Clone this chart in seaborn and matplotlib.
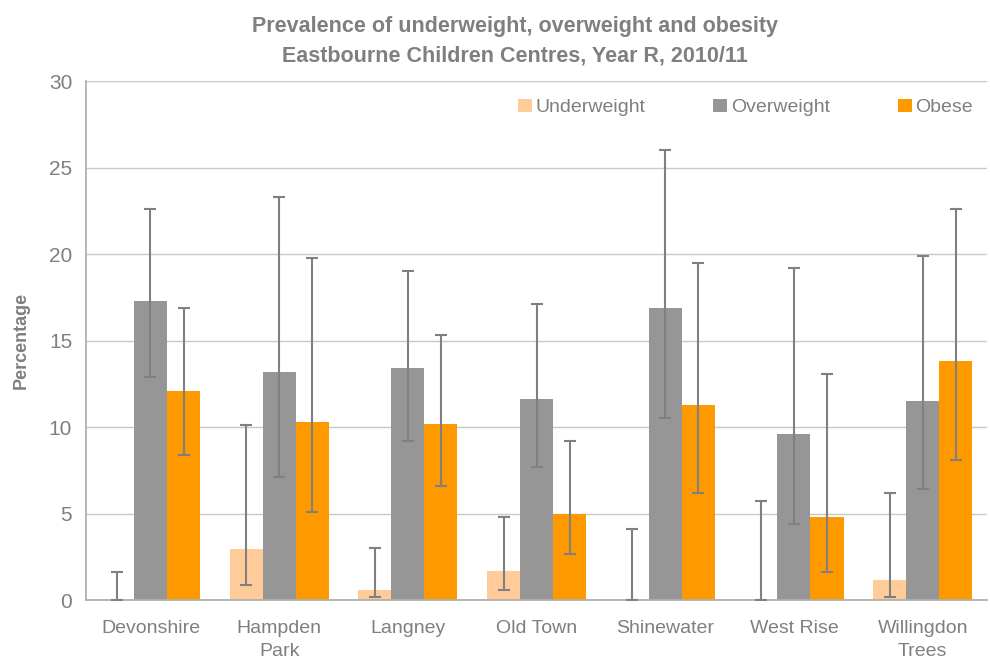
import numpy as np
import pandas as pd
import matplotlib
matplotlib.use("Agg")
import matplotlib.pyplot as plt
import seaborn as sns

# Data
centres = ["Devonshire", "Hampden\nPark", "Langney", "Old Town",
           "Shinewater", "West Rise", "Willingdon\nTrees"]
measures = ["Underweight", "Overweight", "Obese"]

underweight = [0.0, 2.95, 0.6, 1.7, 0.0, 0.0, 1.15]
underweight_lo = [0.0, 0.9, 0.15, 0.6, 0.0, 0.0, 0.2]
underweight_hi = [1.6, 10.1, 3.0, 4.8, 4.1, 5.7, 6.2]

overweight = [17.3, 13.2, 13.4, 11.6, 16.9, 9.6, 11.5]
overweight_lo = [12.9, 7.1, 9.2, 7.7, 10.5, 4.4, 6.4]
overweight_hi = [22.6, 23.3, 19.0, 17.1, 26.0, 19.2, 19.9]

obese = [12.1, 10.3, 10.2, 5.0, 11.3, 4.8, 13.8]
obese_lo = [8.4, 5.1, 6.6, 2.65, 6.2, 1.6, 8.1]
obese_hi = [16.9, 19.8, 15.3, 9.2, 19.5, 13.1, 22.6]

colors = ["#FFCC99", "#969696", "#FF9900"]
txt = "#7F7F7F"

rows = []
for i, c in enumerate(centres):
    rows.append((c, "Underweight", underweight[i], underweight_lo[i], underweight_hi[i]))
    rows.append((c, "Overweight", overweight[i], overweight_lo[i], overweight_hi[i]))
    rows.append((c, "Obese", obese[i], obese_lo[i], obese_hi[i]))
df = pd.DataFrame(rows, columns=["centre", "measure", "value", "lo", "hi"])

sns.set_style("white")
plt.rcParams["font.family"] = ["Liberation Sans", "DejaVu Sans"]

fig = plt.figure(figsize=(9.9, 6.66), dpi=100)
ax = fig.add_axes([0.087, 0.099, 0.91, 0.779])

sns.barplot(data=df, x="centre", y="value", hue="measure", order=centres,
            hue_order=measures, palette=colors, width=0.77, saturation=1,
            errorbar=None, linewidth=0, ax=ax, zorder=2)

# asymmetric confidence intervals drawn at each bar centre
for k, m in enumerate(measures):
    cont = ax.containers[k]
    sub = df[df["measure"] == m].set_index("centre").loc[centres]
    xs = [p.get_x() + p.get_width() / 2 for p in cont.patches]
    yerr = [sub["value"] - sub["lo"], sub["hi"] - sub["value"]]
    ax.errorbar(xs, sub["value"], yerr=yerr, fmt="none", ecolor="#808080",
                elinewidth=1.5, capsize=4.5, capthick=1.5, zorder=3)

ax.set_ylim(0, 30)
ax.set_xlim(-0.5, len(centres) - 0.5)
ax.set_yticks(range(0, 31, 5))
ax.yaxis.grid(True, color="#C8C8C8", linewidth=1)
ax.set_axisbelow(True)

for s in ["top", "right"]:
    ax.spines[s].set_visible(False)
for s in ["left", "bottom"]:
    ax.spines[s].set_color("#B0B0B0")
    ax.spines[s].set_linewidth(1.3)

ax.tick_params(axis="y", colors=txt, labelsize=15, length=6, width=1, color="#B0B0B0", pad=4)
ax.tick_params(axis="x", colors=txt, labelsize=14, length=0, pad=14)
ax.set_xticks(np.arange(-0.5, len(centres) - 0.4, 1), minor=True)
ax.tick_params(axis="x", which="minor", length=7, width=1, color="#B0B0B0")
for lab in ax.get_xticklabels():
    lab.set_linespacing(1.5)

ax.set_xlabel("")
ax.set_ylabel("Percentage", fontsize=13, fontweight="bold", color=txt, labelpad=14)

fig.suptitle("Prevalence of underweight, overweight and obesity\nEastbourne Children Centres, Year R, 2010/11",
             x=0.52, y=0.976, fontsize=15.5, fontweight="bold", color=txt, linespacing=1.55)

leg = ax.legend(loc="upper right", bbox_to_anchor=(1.004, 1.0), ncol=3, frameon=False,
                fontsize=14, handlelength=0.7, handleheight=0.7, handletextpad=0.2,
                columnspacing=3.5, labelcolor=txt)

fig.savefig("out.png", dpi=100)
